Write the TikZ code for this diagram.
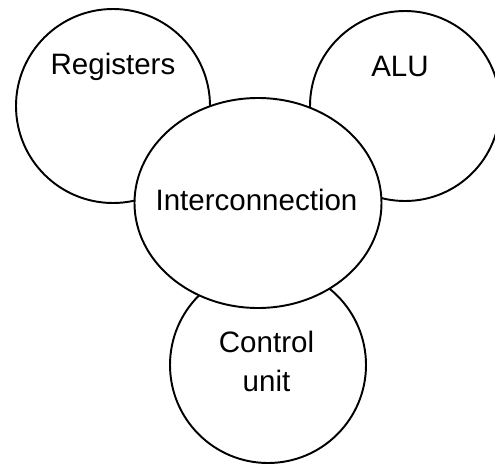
\documentclass[tikz,border=0pt]{standalone}
\usepackage{fontspec}
\setmainfont{Liberation Sans}
\usepackage{tikz}
\usetikzlibrary{shapes.geometric}

\begin{document}
\begin{tikzpicture}[
        unitbox/.style={draw, circle, line width=1.1pt, fill=white, inner sep=0pt},
        hub/.style={unitbox, ellipse, minimum width=4.94cm, minimum height=4.2cm},
        lbl/.style={font=\fontsize{16.8}{22}\selectfont, inner sep=0pt, align=center}
    ]
    \useasboundingbox (0,0) rectangle (9.9,-9.32);
    \node[unitbox, minimum size=3.88cm] (reg) at (2.26,-2.12) {};
    \node[lbl] (regtext) at (2.26,-1.33) {Registers};
    \node[unitbox, minimum size=3.8cm] (alu) at (8.1,-2.12) {};
    \node[lbl] (alutext) at (8.0,-1.33) {ALU};
    \node[unitbox, minimum size=3.92cm] (ctrl) at (5.36,-7.3) {};
    \node[lbl] (ctrltext) at (5.33,-7.23) {Control\\unit};
    \node[hub] (ic) at (5.16,-4.06) {};
    \node[lbl] (ictext) at (5.13,-4.0) {Interconnection};
\end{tikzpicture}
\end{document}
